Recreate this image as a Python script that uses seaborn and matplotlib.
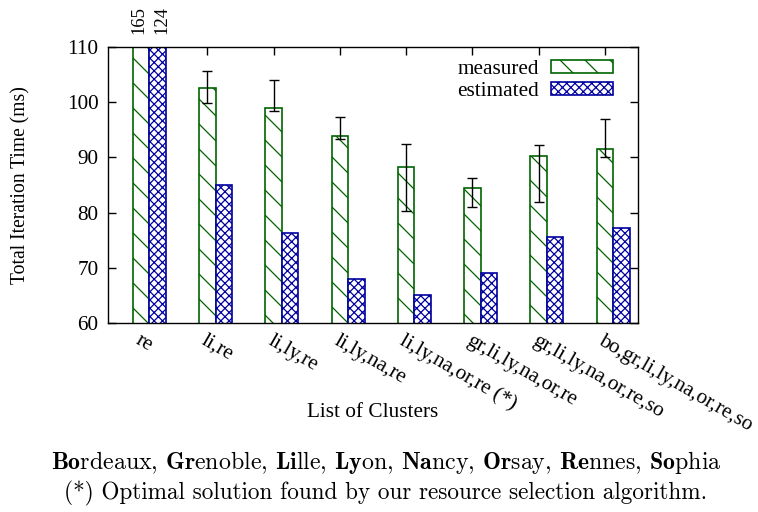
import numpy as np
import pandas as pd
import matplotlib
matplotlib.use("Agg")
import matplotlib.pyplot as plt
import seaborn as sns
from matplotlib.patches import Patch

clusters = ["re", "li,re", "li,ly,re", "li,ly,na,re", "li,ly,na,or,re (*)",
            "gr,li,ly,na,or,re", "gr,li,ly,na,or,re,so", "bo,gr,li,ly,na,or,re,so"]
measured = [165, 102.5, 98.9, 93.8, 88.3, 84.5, 90.3, 91.5]
estimated = [124, 85.0, 76.3, 68.0, 65.1, 69.0, 75.6, 77.2]
err_low = [np.nan, 99.9, 98.4, 93.3, 80.3, 81.0, 81.9, 90.0]
err_high = [np.nan, 105.6, 104.1, 97.3, 92.5, 86.2, 92.3, 97.0]
series = ["measured", "estimated"]
yticks = [60, 70, 80, 90, 100, 110]

GREEN = "#006400"
BLUE = "#0000a0"
DPI = 75                 # lower dpi -> denser hatch in pixels
K = 100 / DPI            # scale point sizes so they look as at 100 dpi
FS = 15.3 * K

sns.set_style("ticks")
plt.rcParams["font.family"] = ["Liberation Serif", "DejaVu Serif"]
plt.rcParams["mathtext.fontset"] = "cm"
plt.rcParams["hatch.linewidth"] = 0.9 * K
for key in ["text.color", "axes.labelcolor", "xtick.color", "ytick.color"]:
    plt.rcParams[key] = "black"

df = pd.DataFrame({
    "cluster": clusters * 2,
    "time": measured + estimated,
    "series": [series[0]] * len(clusters) + [series[1]] * len(clusters),
})

fig = plt.figure(figsize=(758 / DPI, 512 / DPI), dpi=DPI)
ax = fig.add_axes([108 / 758, 1 - 323 / 512, (638 - 108) / 758, (323 - 47) / 512])

sns.barplot(data=df, x="cluster", y="time", hue="series", order=clusters,
            hue_order=series, palette=[GREEN, BLUE], width=0.5, legend=False,
            ax=ax)

styles = [(GREEN, "\\"), (BLUE, "xxx")]
for cont, (col, hatch) in zip(ax.containers, styles):
    for p in cont:
        p.set_facecolor("white")
        p.set_edgecolor(col)
        p.set_hatch(hatch)
        p.set_linewidth(1.2 * K)

ymin, ymax = yticks[0], yticks[-1]
ax.set_ylim(ymin, ymax)
ax.set_yticks(yticks)

# error bars on measured bars
green_bars = list(ax.containers[0])
centers = np.array([p.get_x() + p.get_width() / 2 for p in green_bars])
m = np.array(measured, dtype=float)
lo = np.array(err_low)
hi = np.array(err_high)
ax.errorbar(centers, m, yerr=[m - lo, hi - m], fmt="none", ecolor="black",
            elinewidth=1.0 * K, capsize=3.5 * K, capthick=1.0 * K, zorder=5)

# values above the axis
ann_dx = [-1.4, 2.8]
for cont, vals, dx in zip(ax.containers, [measured, estimated], ann_dx):
    for p, v in zip(cont, vals):
        if v > ymax:
            ax.annotate(str(v), (p.get_x() + p.get_width() / 2, ymax),
                        xytext=(dx * K, 9 * K), textcoords="offset points",
                        rotation=90, ha="center", va="bottom", fontsize=13.4 * K,
                        annotation_clip=False)

ax.set_xlim(-0.625, 7.375)
ax.set_xticks(centers)
ax.set_xticklabels(clusters, rotation=-30, ha="left", va="top",
                   rotation_mode="anchor", fontsize=FS)
ax.tick_params(axis="both", direction="in", length=6 * K, width=1.0 * K,
               top=True, right=True, labelsize=FS, colors="black")
ax.tick_params(axis="x", pad=6 * K)
ax.tick_params(axis="y", pad=7 * K)
for s in ax.spines.values():
    s.set_visible(True)
    s.set_linewidth(1.0 * K)
    s.set_color("black")

ax.set_xlabel("List of Clusters", fontsize=FS)
ax.xaxis.set_label_coords((373 - 108) / 530, -(403 - 323) / 276)
ax.set_ylabel("Total Iteration Time (ms)", fontsize=14.1 * K)
ax.yaxis.set_label_coords(-(108 - 30) / 530, 0.5)

handles = [Patch(facecolor="white", edgecolor=GREEN, hatch="\\", lw=1.2 * K, label=series[0]),
           Patch(facecolor="white", edgecolor=BLUE, hatch="xxx", lw=1.2 * K, label=series[1])]
ax.legend(handles=handles, loc="upper right", frameon=False, markerfirst=False,
          bbox_to_anchor=((613 - 108) / 530, 1 - (60 - 47) / 276),
          borderaxespad=0, borderpad=0,
          handlelength=2.9, handleheight=0.56, fontsize=FS,
          labelspacing=0.15, handletextpad=0.6)

fig.text(386 / 758, 1 - 462 / 512,
         r"$\mathbf{Bo}$rdeaux, $\mathbf{Gr}$enoble, $\mathbf{Li}$lle, $\mathbf{Ly}$on, "
         r"$\mathbf{Na}$ncy, $\mathbf{Or}$say, $\mathbf{Re}$nnes, $\mathbf{So}$phia",
         ha="center", va="center", fontsize=17.2 * K, family="cmr10")
fig.text(386 / 758, 1 - 493 / 512,
         "(*) Optimal solution found by our resource selection algorithm.",
         ha="center", va="center", fontsize=16.7 * K, family="cmr10")

fig.savefig("out.png", dpi=DPI)
